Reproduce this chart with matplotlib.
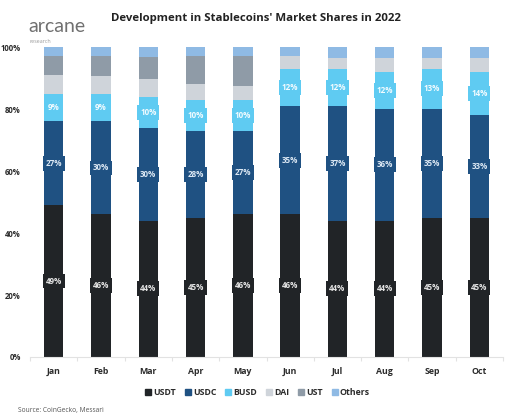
"""Stablecoin market shares by month, 2022 (stacked 100% bars)."""
import matplotlib
matplotlib.use("Agg")
import matplotlib.pyplot as plt
import matplotlib.patches as mpatches
import numpy as np

MONTHS = ["Jan", "Feb", "Mar", "Apr", "May", "Jun", "Jul", "Aug", "Sep", "Oct"]
COINS = ["USDT", "USDC", "BUSD", "DAI", "UST", "Others"]

usdt = [49, 46, 44, 45, 46, 46, 44, 44, 45, 45]
usdc = [27, 30, 30, 28, 27, 35, 37, 36, 35, 33]
busd = [9, 9, 10, 10, 10, 12, 12, 12, 13, 14]
dai = [6, 5.5, 5.6, 5, 4.5, 4, 3.5, 4.5, 3.5, 4.5]
ust = [6, 6.5, 7.1, 9, 9.5, 0, 0, 0, 0, 0]
others = [3, 3, 3.3, 3, 3, 3, 3.5, 3.5, 3.5, 3.5]

# only the three biggest get a value box
LABELLED = {"USDT", "USDC", "BUSD"}

COLORS = {
    "USDT": "#212427",
    "USDC": "#1f5182",
    "BUSD": "#5fcbf2",
    "DAI": "#cfd4da",
    "UST": "#8f9ba7",
    "Others": "#8fbae4",
}
LABEL_TEXT = {"USDT": "#e6e6e6", "USDC": "#dce8f4", "BUSD": "#f2fbff"}

plt.rcParams.update({
    "font.family": ["Open Sans", "DejaVu Sans"],
})

series = dict(zip(COINS, [usdt, usdc, busd, dai, ust, others]))

fig = plt.figure(figsize=(5.15, 4.2), dpi=100)
ax = fig.add_axes([0.0583, 0.15, 0.9184, 0.738])

x = np.arange(len(MONTHS))
bottom = np.zeros(len(MONTHS))
for coin in COINS:
    vals = np.array(series[coin], dtype=float)
    ax.bar(x, vals, bottom=bottom, width=0.41, color=COLORS[coin], linewidth=0, zorder=2)
    if coin in LABELLED:
        for xi, b, v in zip(x, bottom, vals):
            ax.text(xi, b + v / 2, f"{v:.0f}%", ha="center", va="center",
                    fontsize=5.8, fontweight="bold", color=LABEL_TEXT[coin], zorder=4,
                    bbox=dict(boxstyle="square,pad=0.36", fc=COLORS[coin], ec="none"))
    bottom += vals

ax.set_xlim(-0.5, len(MONTHS) - 0.5)
ax.set_ylim(0, 100)

for s in ("top", "right", "left"):
    ax.spines[s].set_visible(False)
ax.spines["bottom"].set_color("#e2e2e2")
ax.spines["bottom"].set_linewidth(0.8)

ax.set_xticks(x)
ax.set_xticklabels(MONTHS, fontsize=6.3, fontweight="bold", color="#2b2b2b")
ax.tick_params(axis="x", which="major", length=0, pad=7)
ax.set_xticks(np.arange(-0.5, len(MONTHS), 1.0), minor=True)
ax.tick_params(axis="x", which="minor", length=3, color="#e2e2e2", width=0.8)

ax.set_yticks([0, 20, 40, 60, 80, 100])
ax.set_yticklabels([f"{t}%" for t in [0, 20, 40, 60, 80, 100]],
                   fontsize=5.6, fontweight="bold", color="#2b2b2b")
ax.tick_params(axis="y", length=0, pad=6.5)

# title and logo
fig.text(0.497, 0.955, "Development in Stablecoins' Market Shares in 2022",
         ha="center", va="center", fontsize=8.2, fontweight="bold", color="#222222")
fig.text(0.056, 0.936, "arcane", ha="left", va="center", fontsize=14,
         fontweight="normal", color="#707070", family=["Lato", "DejaVu Sans"])
fig.text(0.058, 0.902, "research", ha="left", va="center", fontsize=3.8, color="#9a9a9a")

handles = [mpatches.Patch(color=COLORS[c], label=c) for c in COINS]
fig.legend(handles=handles, loc="center", bbox_to_anchor=(0.5, 0.065), ncol=6,
           frameon=False, handlelength=0.7, handleheight=0.7, handletextpad=0.25,
           columnspacing=1.0, prop={"size": 6.3, "weight": "bold"},
           labelcolor="#2b2b2b")

fig.text(0.035, 0.022, "Source: CoinGecko, Messari", ha="left", va="center",
         fontsize=4.8, color="#555555")

fig.savefig("out.png", dpi=100)
